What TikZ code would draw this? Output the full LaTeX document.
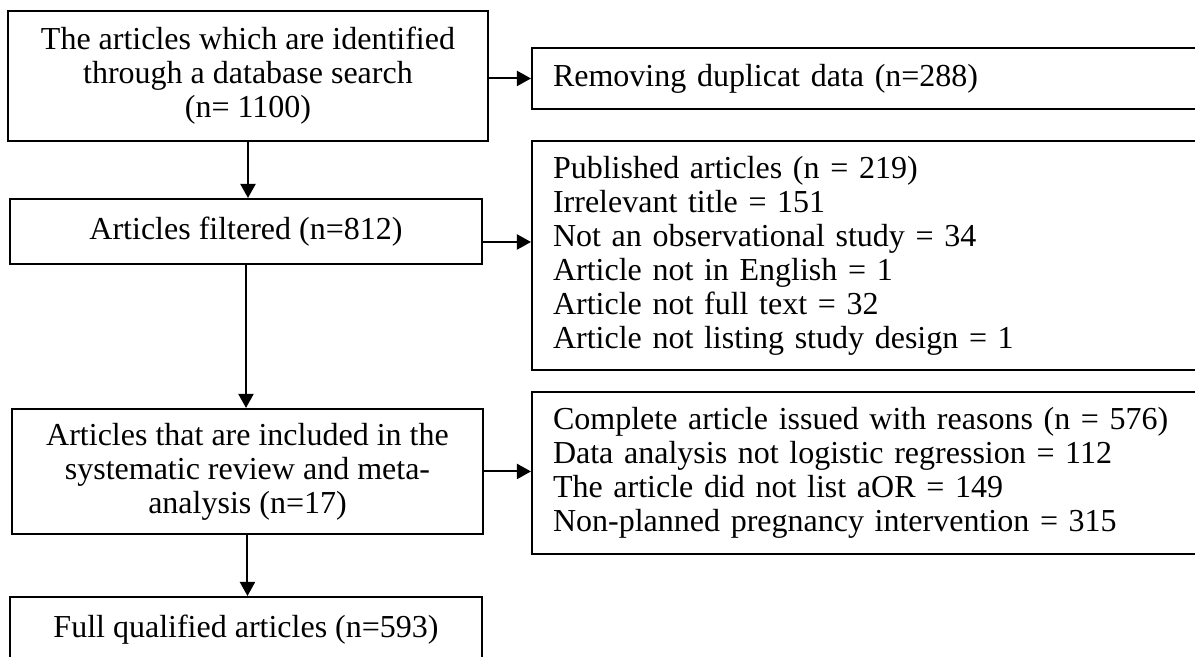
\documentclass[tikz,border=0pt]{standalone}
\usepackage{fontspec}
\setmainfont{Liberation Serif}
\usetikzlibrary{arrows.meta,positioning}

\begin{document}
\begin{tikzpicture}[x=1cm,y=1cm,font=\fontsize{16pt}{17pt}\selectfont,
box/.style={draw=black,line width=1pt,align=center,inner sep=0pt},
side/.style={draw=black,line width=1pt,align=left,anchor=west,inner xsep=.37cm,text width=11.2cm},
arr/.style={-{Triangle[length=7pt,width=7.5pt]},line width=1pt}]

\clip(0,0)rectangle(21.0,11.545);
\node[box,minimum width=8.435cm,minimum height=2.285cm] (srch) at(4.358,10.210){The articles which are identified\\through a database search\\(n= 1100)};
\node[box,minimum width=8.294cm,minimum height=1.142cm] (filt) at(4.323,7.477){Articles filtered (n=812)};
\node[box,minimum width=8.277cm,minimum height=2.197cm] (incl) at(4.349,3.260){Articles that are included in the\\systematic review and meta-\\analysis (n=17)};
\node[box,minimum width=8.294cm,minimum height=1.142cm] (full) at(4.323,.483){Full qualified articles (n=593)};
\node[side,minimum height=1.072cm] (dup) at(9.331,10.166){Removing duplicat data (n=288)};
\node[side,minimum height=4.024cm] (excl) at(9.331,7.056){Published articles (n = 219)\\Irrelevant title = 151\\Not an observational study = 34\\Article not in English = 1\\Article not full text = 32\\Article not listing study design = 1};
\node[side,minimum height=2.847cm] (rsn) at(9.331,3.233){Complete article issued with reasons (n = 576)\\Data analysis not logistic regression = 112\\The article did not list aOR = 149\\Non-planned pregnancy intervention = 315};
\draw[arr](srch.south)--(srch.south|-filt.north);
\draw[arr](filt.south)--(filt.south|-incl.north);
\draw[arr](incl.south)--(incl.south|-full.north);
\draw[arr](dup.west-|srch.east)--(dup.west);
\draw[arr]([yshift=-5.25pt]filt.east)--([yshift=-5.25pt]filt.east-|excl.west);
\draw[arr](incl.east)--(incl.east-|rsn.west);
\end{tikzpicture}
\end{document}
